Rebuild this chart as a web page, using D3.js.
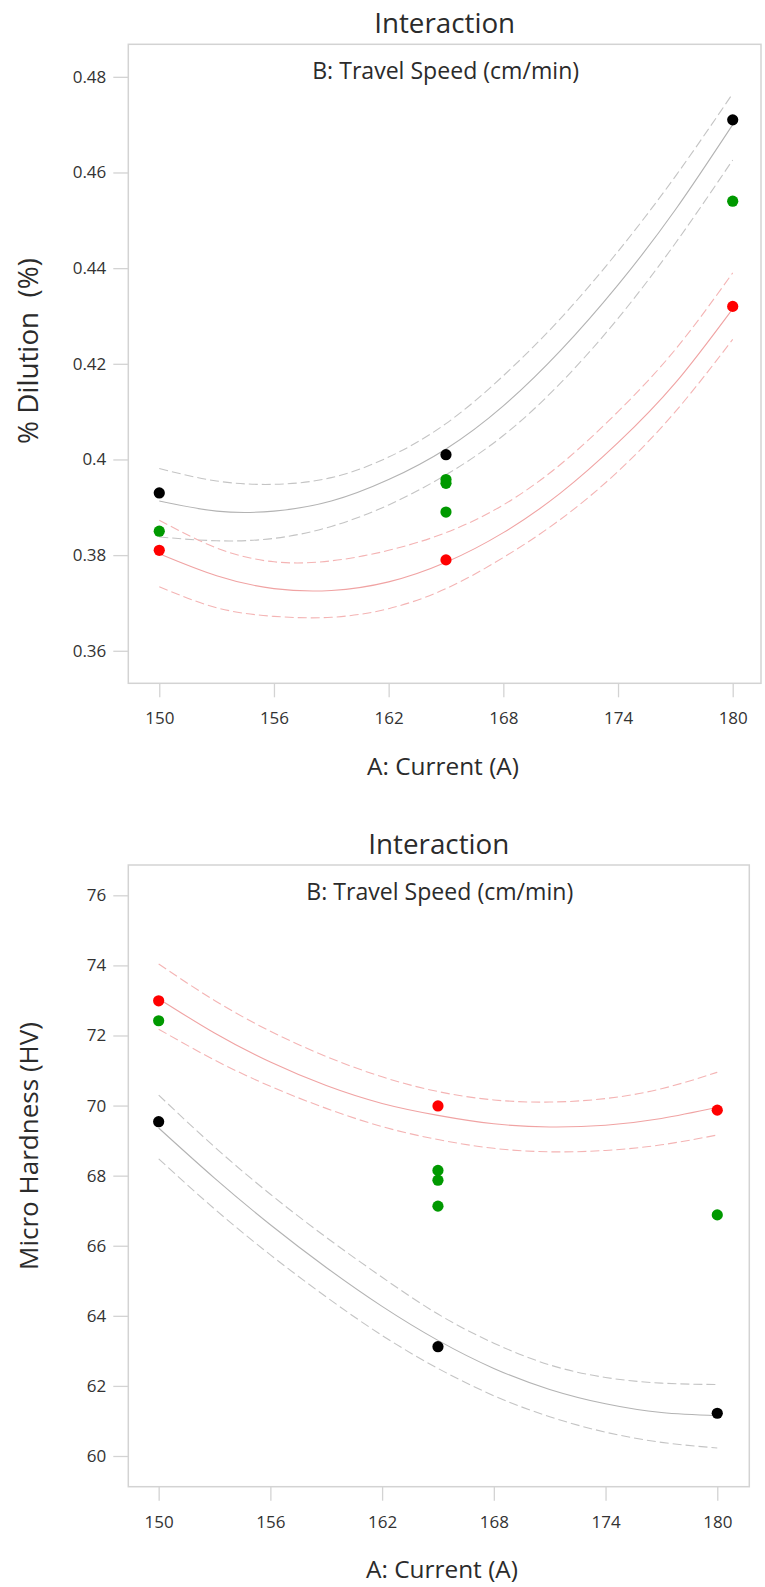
<!DOCTYPE html>
<html><head><meta charset="utf-8">
<script src="https://cdn.jsdelivr.net/npm/d3@7"></script>
<style>
body{margin:0;background:#fff}
svg{display:block}
text{font-family:"Open Sans","Noto Sans",sans-serif}
</style>
</head><body>
<svg id="c" width="765" height="1587"></svg>
<script>
// ---------- shared ----------
const curveCurrent = [150,153,156,159,162,165,168,171,174,177,180];
const xTickValues = [150,156,162,168,174,180];

// ---------- % Dilution ----------
const dilBMinusMean  = [0.3913,0.3892,0.3892,0.3913,0.3958,0.4022,0.4112,0.4228,0.4365,0.4522,0.4700];
const dilBMinusUpper = [0.3981,0.3955,0.3948,0.3962,0.4005,0.4075,0.4175,0.4295,0.4435,0.4592,0.4765];
const dilBMinusLower = [0.3838,0.3830,0.3835,0.3860,0.3905,0.3968,0.4050,0.4160,0.4295,0.4452,0.4626];
const dilBPlusMean   = [0.3803,0.3757,0.3730,0.3726,0.3744,0.3785,0.3847,0.3930,0.4035,0.4160,0.4315];
const dilBPlusUpper  = [0.3873,0.3815,0.3786,0.3788,0.3810,0.3847,0.3905,0.3990,0.4100,0.4230,0.4390];
const dilBPlusLower  = [0.3734,0.3690,0.3672,0.3670,0.3688,0.3730,0.3795,0.3875,0.3975,0.4100,0.4251];
const dilPtBMinusX = [150,165,180];
const dilPtBMinusY = [0.393,0.401,0.471];
const dilPtCenterX = [150,165,165,165,180];
const dilPtCenterY = [0.385,0.3958,0.3950,0.389,0.454];
const dilPtBPlusX  = [150,165,180];
const dilPtBPlusY  = [0.381,0.379,0.432];
const dilYTicks = [0.36,0.38,0.40,0.42,0.44,0.46,0.48];
const dilYTickLabels = ["0.36","0.38","0.4","0.42","0.44","0.46","0.48"];

// ---------- Micro Hardness ----------
const hvBMinusMean  = [69.36,67.93,66.60,65.38,64.27,63.30,62.50,61.90,61.49,61.24,61.15];
const hvBMinusUpper = [70.30,68.82,67.47,66.24,65.10,64.05,63.22,62.60,62.24,62.08,62.04];
const hvBMinusLower = [68.48,67.05,65.74,64.54,63.44,62.50,61.72,61.12,60.68,60.39,60.23];
const hvBPlusMean   = [73.05,72.07,71.24,70.57,70.06,69.72,69.48,69.39,69.44,69.63,69.95];
const hvBPlusUpper  = [74.04,73.00,72.12,71.40,70.82,70.40,70.16,70.10,70.20,70.48,70.95];
const hvBPlusLower  = [72.18,71.30,70.55,69.92,69.40,69.03,68.78,68.68,68.72,68.88,69.16];
const hvPtBMinusX = [150,165,180];
const hvPtBMinusY = [69.54,63.12,61.22];
const hvPtCenterX = [150,165,165,165,180];
const hvPtCenterY = [72.42,68.15,67.87,67.13,66.88];
const hvPtBPlusX  = [150,165,180];
const hvPtBPlusY  = [72.99,69.99,69.87];
const hvYTicks = [60,62,64,66,68,70,72,74,76];
const hvYTickLabels = ["60","62","64","66","68","70","72","74","76"];

const titleText = "Interaction";
const factorText = "B: Travel Speed (cm/min)";
const xLabelText = "A: Current (A)";

// ---------- drawing ----------
const svg = d3.select("#c");
const FRAME = "#d3d3d3";
const TXT = "#2b2b2b";

function fit(sel, target){
  const w = sel.node().getComputedTextLength();
  const fs = parseFloat(sel.attr("font-size"));
  sel.attr("font-size", (fs*target/w).toFixed(2));
}

function panel(cfg){
  const g = svg.append("g");
  const x = d3.scaleLinear().domain(cfg.xDomain).range([cfg.left, cfg.right]);
  const y = d3.scaleLinear().domain(cfg.yDomain).range([cfg.bottom, cfg.top]);

  // axes
  const xa = g.append("g").attr("transform", `translate(0,${cfg.bottom})`)
    .call(d3.axisBottom(x).tickValues(xTickValues).tickSize(14).tickPadding(15).tickFormat(d3.format("d")));
  const ya = g.append("g").attr("transform", `translate(${cfg.left},0)`)
    .call(d3.axisLeft(y).tickValues(cfg.yTicks).tickSize(15).tickPadding(7)
      .tickFormat((d,i)=>cfg.yTickLabels[i]));
  [xa, ya].forEach(a=>{
    a.select(".domain").remove();
    a.selectAll(".tick line").attr("stroke", FRAME).attr("stroke-width", 1.3);
    a.selectAll(".tick text").attr("fill", "#333").attr("font-size", 17)
      .attr("font-family", '"Open Sans","Noto Sans",sans-serif');
  });

  // frame
  g.append("rect").attr("x", cfg.left).attr("y", cfg.top)
    .attr("width", cfg.right-cfg.left).attr("height", cfg.bottom-cfg.top)
    .attr("fill", "none").attr("stroke", FRAME).attr("stroke-width", 1.5);

  // curves
  const line = d3.line().x((d,i)=>x(curveCurrent[i])).y(d=>y(d)).curve(d3.curveNatural);
  const curves = [
    [cfg.minusUpper, "#c4c4c4", "9,4"],
    [cfg.minusLower, "#c4c4c4", "9,4"],
    [cfg.minusMean, "#b3b3b3", null],
    [cfg.plusUpper, "#f4b4b4", "9,4"],
    [cfg.plusLower, "#f4b4b4", "9,4"],
    [cfg.plusMean, "#f0a3a3", null]
  ];
  curves.forEach(([data,col,dash])=>{
    g.append("path").attr("d", line(data)).attr("fill","none")
      .attr("stroke", col).attr("stroke-width", 1.1)
      .attr("stroke-dasharray", dash);
  });

  // points
  const pts = [
    [cfg.ptPlusX, cfg.ptPlusY, "#ff0000"],
    [cfg.ptCenterX, cfg.ptCenterY, "#009900"],
    [cfg.ptMinusX, cfg.ptMinusY, "#000000"]
  ];
  pts.forEach(([xs,ys,col])=>{
    g.selectAll(null).data(ys).enter().append("circle")
      .attr("cx",(d,i)=>x(xs[i])).attr("cy",d=>y(d)).attr("r",5.6).attr("fill",col);
  });

  const cx = (cfg.left+cfg.right)/2;
  // title
  const t = g.append("text").attr("x", cx).attr("y", cfg.top-11).attr("text-anchor","middle")
    .attr("font-size", 26).attr("fill", TXT).text(titleText);
  fit(t, 141);
  // factor subtitle
  const s = g.append("text").attr("x", cx+1).attr("y", cfg.top+34.5).attr("text-anchor","middle")
    .attr("font-size", 20).attr("fill", TXT).text(factorText);
  fit(s, 267);
  // x label
  const xl = g.append("text").attr("x", cfg.xLabelX).attr("y", cfg.bottom+91.5).attr("text-anchor","middle")
    .attr("font-size", 22).attr("fill", TXT).text(xLabelText);
  fit(xl, 152);
  // y label
  const yl = g.append("text").attr("transform", `translate(38,${cfg.yLabelY}) rotate(-90)`)
    .attr("text-anchor","middle").attr("font-size", 22).attr("fill", TXT)
    .style("white-space","pre").text(cfg.yLabel);
  fit(yl, cfg.yLabelLen);
}

panel({
  left:128.3, right:761, top:44.3, bottom:683.3,
  xDomain:[148.38,181.48], yDomain:[0.3532,0.4868],
  yTicks:dilYTicks, yTickLabels:dilYTickLabels,
  minusMean:dilBMinusMean, minusUpper:dilBMinusUpper, minusLower:dilBMinusLower,
  plusMean:dilBPlusMean, plusUpper:dilBPlusUpper, plusLower:dilBPlusLower,
  ptMinusX:dilPtBMinusX, ptMinusY:dilPtBMinusY,
  ptCenterX:dilPtCenterX, ptCenterY:dilPtCenterY,
  ptPlusX:dilPtBPlusX, ptPlusY:dilPtBPlusY,
  xLabelX:443, yLabel:"% Dilution  (%)", yLabelY:351, yLabelLen:186
});

panel({
  left:128.3, right:749.3, top:865, bottom:1486.7,
  xDomain:[148.37,181.72], yDomain:[59.124,76.865],
  yTicks:hvYTicks, yTickLabels:hvYTickLabels,
  minusMean:hvBMinusMean, minusUpper:hvBMinusUpper, minusLower:hvBMinusLower,
  plusMean:hvBPlusMean, plusUpper:hvBPlusUpper, plusLower:hvBPlusLower,
  ptMinusX:hvPtBMinusX, ptMinusY:hvPtBMinusY,
  ptCenterX:hvPtCenterX, ptCenterY:hvPtCenterY,
  ptPlusX:hvPtBPlusX, ptPlusY:hvPtBPlusY,
  xLabelX:442, yLabel:"Micro Hardness (HV)", yLabelY:1146, yLabelLen:248
});
</script>
</body></html>
